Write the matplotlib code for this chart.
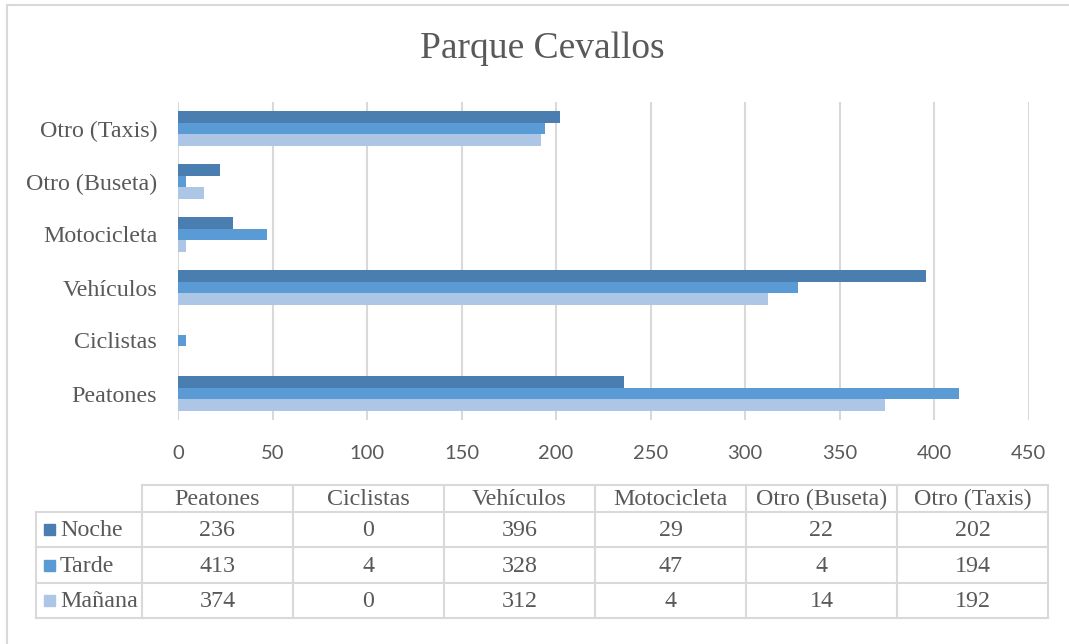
import matplotlib.pyplot as plt
import numpy as np

categories = ["Peatones", "Ciclistas", "Vehículos", "Motocicleta", "Otro (Buseta)", "Otro (Taxis)"]
series_names = ["Noche", "Tarde", "Mañana"]
noche = [236, 0, 396, 29, 22, 202]
tarde = [413, 4, 328, 47, 4, 194]
manana = [374, 0, 312, 4, 14, 192]
x_ticks = [0, 50, 100, 150, 200, 250, 300, 350, 400, 450]
title = "Parque Cevallos"

colors = ["#4a7eb0", "#5b9bd5", "#adc6e5"]
text_color = "#595959"
grid_color = "#d9d9d9"
serif = "Liberation Serif"

W, H = 1069, 644
fig = plt.figure(figsize=(W / 100, H / 100), dpi=100)


def fx(px):
    return px / W


def fy(py):
    return 1 - py / H


# outer frame (left and top edges visible)
fig.add_artist(plt.Line2D([fx(7), fx(7)], [fy(5), 0], color=grid_color, lw=1.5))
fig.add_artist(plt.Line2D([fx(7), fx(1068)], [fy(5), fy(5)], color=grid_color, lw=1.5))

fig.text(fx(542), fy(49), title, ha="center", va="center", fontsize=27,
         family=serif, color=text_color)

left, right, top, bottom = 178, 1028.5, 102, 420
ax = fig.add_axes([fx(left), fy(bottom), fx(right - left), (bottom - top) / H])

y = np.arange(len(categories))
bh = 0.225
for vals, off, c in zip([noche, tarde, manana], [bh, 0, -bh], colors):
    ax.barh(y + off, vals, height=bh, color=c, zorder=3)

ax.set_xlim(0, 450)
ax.set_ylim(-0.5, len(categories) - 0.5)
ax.set_xticks(x_ticks)
ax.set_xticklabels([str(t) for t in x_ticks], family="Lato", fontsize=14.5, color=text_color)
ax.set_yticks(y)
ax.set_yticklabels(categories, family=serif, fontsize=17.3, color=text_color)
ax.tick_params(length=0)
ax.tick_params(axis="y", pad=15)
ax.tick_params(axis="x", pad=18)
ax.xaxis.grid(True, color=grid_color, lw=1.5, zorder=0)
for s in ax.spines.values():
    s.set_visible(False)

# data table
col_l, col_r = 142, 1048
ncol = len(categories)
cw = (col_r - col_l) / ncol
row_edges = [485, 512, 547, 583, 618]
lab_l = 36
lw = 1.5
for i, ye in enumerate(row_edges):
    x0 = col_l if i == 0 else lab_l
    fig.add_artist(plt.Line2D([fx(x0), fx(col_r)], [fy(ye), fy(ye)], color=grid_color, lw=lw))
for j in range(ncol + 1):
    xe = col_l + j * cw
    fig.add_artist(plt.Line2D([fx(xe), fx(xe)], [fy(row_edges[0]), fy(row_edges[-1])],
                              color=grid_color, lw=lw))
fig.add_artist(plt.Line2D([fx(lab_l), fx(lab_l)], [fy(row_edges[1]), fy(row_edges[-1])],
                          color=grid_color, lw=lw))

for j, cat in enumerate(categories):
    fig.text(fx(col_l + (j + 0.5) * cw), fy((row_edges[0] + row_edges[1]) / 2 + 1), cat,
             ha="center", va="center", fontsize=17.3, family=serif, color=text_color)

for i, (name, vals, c) in enumerate(zip(series_names, [noche, tarde, manana], colors)):
    yc = (row_edges[i + 1] + row_edges[i + 2]) / 2 + 1
    fig.add_artist(plt.Rectangle((fx(44), fy(yc + 4.5)), 11 / W, 11 / H, color=c))
    fig.text(fx(60), fy(yc), name, ha="left", va="center", fontsize=17.3,
             family=serif, color=text_color)
    for j, v in enumerate(vals):
        fig.text(fx(col_l + (j + 0.5) * cw), fy(yc), str(v), ha="center", va="center",
                 fontsize=17.3, family=serif, color=text_color)

fig.savefig("out.png", dpi=100)
